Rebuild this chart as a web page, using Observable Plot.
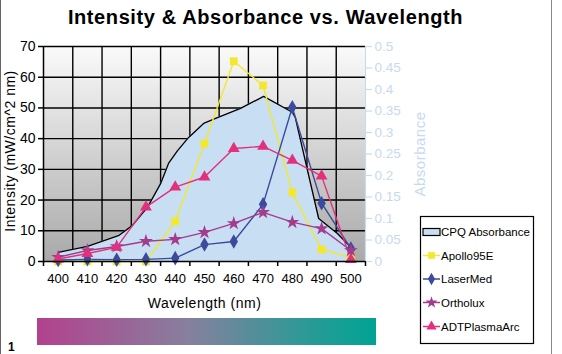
<!DOCTYPE html>
<html><head><meta charset="utf-8">
<script src="https://cdn.jsdelivr.net/npm/d3@7"></script>
<script src="https://cdn.jsdelivr.net/npm/@observablehq/plot@0.6"></script>
<style>body{margin:0;background:#fff} svg{display:block}</style>
</head><body><div id="chart"></div>
<script>
// ---- data ----
const wavelengths = [400, 410, 420, 430, 440, 450, 460, 470, 480, 490, 500];
const apollo95E   = [0, 0, 0, 0, 13.1, 38.4, 65.2, 57.3, 22.5, 3.9, 1.3];
const laserMed    = [0.5, 0.7, 0.6, 0.7, 1.1, 5.5, 6.5, 18.6, 50.2, 19.0, 4.2];
const ortholux    = [1.4, 3.6, 4.9, 6.6, 7.2, 9.5, 12.4, 16.0, 12.8, 10.7, 3.6];
const adtPlasmaArc = [0.8, 2.6, 4.6, 17.7, 24.2, 27.5, 36.8, 37.5, 32.9, 27.8, 0.6];
const absWavelengths = [400, 410, 420.6, 425.4, 430.5, 435, 437.7, 440.8, 444.5, 449.7, 453.8, 462.3, 470.2, 480, 481, 489, 495.4, 501];
const absValues      = [0.021, 0.035, 0.060, 0.084, 0.126, 0.181, 0.228, 0.258, 0.288, 0.321, 0.333, 0.356, 0.384, 0.347, 0.335, 0.100, 0.065, 0.026];
const seriesNames = ["Apollo95E", "LaserMed", "Ortholux", "ADTPlasmaArc"];
const seriesColors = ["#f2e82e", "#3a4a9e", "#a23c8c", "#e2307c"];
const seriesSymbols = ["square", "diamond", "star", "triangle"];
const absName = "CPQ Absorbance";
const intensityTicks = [0, 10, 20, 30, 40, 50, 60, 70];
const absTicks = [0, 0.05, 0.1, 0.15, 0.2, 0.25, 0.3, 0.35, 0.4, 0.45, 0.5];
const absTickLabels = ["0", "0.05", "0.1", "0.15", "0.2", "0.25", "0.3", "0.35", "0.4", "0.45", "0.5"];
const bandEdges = [395, 405, 415, 425, 435, 445, 455, 465, 475, 485, 495, 505];

// ---- derived tables ----
const ABS_TO_Y = 70 / 0.5;
const seriesValues = [apollo95E, laserMed, ortholux, adtPlasmaArc];
const rows = seriesNames.flatMap((name, s) =>
  wavelengths.map((wl, i) => ({series: name, wl, v: seriesValues[s][i]})));
const absRows = absWavelengths.map((wl, i) => ({wl, y: absValues[i] * ABS_TO_Y}));

const lightBlue = "#c6daf0";
const font = "'Liberation Sans', Arial, sans-serif";

const plot = Plot.plot({
  width: 562, height: 354,
  marginLeft: 43, marginRight: 197, marginTop: 46, marginBottom: 93,
  style: {fontFamily: font, background: "white", overflow: "visible"},
  x: {domain: [395, 505], label: null},
  y: {domain: [0, 70], label: null},
  color: {domain: seriesNames, range: seriesColors},
  symbol: {domain: seriesNames, range: seriesSymbols},
  marks: [
    Plot.frame({fill: "url(#plotBg)", stroke: null}),
    Plot.gridY(intensityTicks.slice(1), {stroke: "#000", strokeOpacity: 1, strokeWidth: 1.4}),
    Plot.gridX(bandEdges.slice(1, -1), {stroke: "#000", strokeOpacity: 1, strokeWidth: 1.4}),
    Plot.areaY(absRows, {x: "wl", y: "y", fill: "#c8def2", curve: "linear"}),
    Plot.lineY(absRows, {x: "wl", y: "y", stroke: "#000", strokeWidth: 1.3}),
    Plot.line(rows, {x: "wl", y: "v", z: "series", stroke: "series", strokeWidth: 1.4}),
    Plot.dot(rows, {x: "wl", y: "v", fill: "series", symbol: "series", r: 4.4, stroke: null}),
    Plot.ruleX([395], {stroke: "#000", strokeWidth: 1.5}),
    Plot.ruleX([505], {stroke: lightBlue, strokeWidth: 1.2}),
    Plot.ruleY([0], {stroke: "#000", strokeWidth: 1.5}),
    Plot.axisY(intensityTicks, {anchor: "left", tickSize: 5, tickPadding: 3, fontSize: 14, stroke: "#000", strokeWidth: 1.5, fill: "#000"}),
    Plot.axisX(wavelengths, {anchor: "bottom", tickSize: 0, tickPadding: 12, fontSize: 13, fill: "#000"}),
    Plot.axisX(bandEdges, {anchor: "bottom", tickSize: 5, tickFormat: () => "", stroke: "#000", strokeWidth: 1.5}),
    Plot.axisY(absTicks.map(v => v * ABS_TO_Y), {
      anchor: "right", tickSize: 6, tickPadding: 3, fontSize: 13.5,
      stroke: lightBlue, fill: lightBlue, strokeWidth: 1.2,
      tickFormat: d => absTickLabels[absTicks.findIndex(v => Math.abs(v * ABS_TO_Y - d) < 1e-6)]
    }),
    Plot.text(["Intensity & Absorbance vs. Wavelength"], {frameAnchor: "top", dx: 61, dy: -29, lineAnchor: "middle", fontSize: 20, fontWeight: "bold", fill: "#000", style: "letter-spacing:0.6px"}),
    Plot.text(["Wavelength (nm)"], {frameAnchor: "bottom", dy: 42, lineAnchor: "middle", fontSize: 14, fill: "#000"}),
    Plot.text(["Intensity (mW/cm^2 nm)"], {frameAnchor: "left", dx: -33, dy: -3, rotate: -90, textAnchor: "middle", lineAnchor: "middle", fontSize: 14, fill: "#000"}),
    Plot.text(["Absorbance"], {frameAnchor: "right", dx: 55, rotate: -90, textAnchor: "middle", lineAnchor: "middle", fontSize: 15, fill: lightBlue})
  ]
});

const svg = d3.select(plot);
const defs = svg.insert("defs", ":first-child");
const bg = defs.append("linearGradient").attr("id", "plotBg").attr("x1", 0).attr("y1", 0).attr("x2", 0).attr("y2", 1);
bg.append("stop").attr("offset", "0%").attr("stop-color", "#fafafa");
bg.append("stop").attr("offset", "100%").attr("stop-color", "#a9a9a9");
const spec = defs.append("linearGradient").attr("id", "spectrum").attr("x1", 0).attr("y1", 0).attr("x2", 1).attr("y2", 0);
spec.append("stop").attr("offset", "0%").attr("stop-color", "#b3418e");
spec.append("stop").attr("offset", "45%").attr("stop-color", "#86809e");
spec.append("stop").attr("offset", "80%").attr("stop-color", "#2a9a96");
spec.append("stop").attr("offset", "100%").attr("stop-color", "#00a394");

// letter spacing for stretched labels
svg.selectAll("text").filter(function() { return this.textContent === "Wavelength (nm)" || this.textContent === "Intensity (mW/cm^2 nm)" || this.textContent === "Absorbance"; })
  .style("letter-spacing", "0.5px");
svg.selectAll("text").filter(function() { return this.textContent === "Intensity & Absorbance vs. Wavelength"; })
  .style("letter-spacing", "0.6px");

// outer frame lines
svg.append("line").attr("x1", 0.5).attr("x2", 0.5).attr("y1", 0).attr("y2", 354).attr("stroke", "#666");
svg.append("line").attr("x1", 551.5).attr("x2", 551.5).attr("y1", 0).attr("y2", 354).attr("stroke", "#888");

// spectrum bar and page number
svg.append("rect").attr("x", 37).attr("y", 318).attr("width", 339).attr("height", 27).attr("fill", "url(#spectrum)");
svg.append("text").attr("x", 8).attr("y", 351).attr("text-anchor", "start").attr("font-size", 12).attr("font-weight", "bold").attr("font-family", font).text("1");

// legend
const lg = svg.append("g").attr("font-family", font).attr("font-size", 11.5).attr("text-anchor", "start");
lg.append("rect").attr("x", 420.5).attr("y", 216.5).attr("width", 113).attr("height", 127).attr("fill", "#fff").attr("stroke", "#000").attr("stroke-width", 1.2);
const entryY = [232, 255.5, 279, 302.5, 326.5];
lg.append("rect").attr("x", 423).attr("y", entryY[0] - 3.5).attr("width", 17).attr("height", 7).attr("fill", "#c8def2").attr("stroke", "#000").attr("stroke-width", 1.2);
lg.append("text").attr("x", 441).attr("y", entryY[0]).attr("dy", "0.35em").text(absName);
const symMap = {square: d3.symbolSquare, diamond: d3.symbolDiamond, star: d3.symbolStar, triangle: d3.symbolTriangle};
seriesNames.forEach((name, i) => {
  const y = entryY[i + 1];
  lg.append("line").attr("x1", 423).attr("x2", 440).attr("y1", y).attr("y2", y).attr("stroke", seriesColors[i]).attr("stroke-width", 1.5);
  lg.append("path").attr("d", d3.symbol(symMap[seriesSymbols[i]], 45)()).attr("transform", `translate(431.5,${y})`).attr("fill", seriesColors[i]);
  lg.append("text").attr("x", 441).attr("y", y).attr("dy", "0.35em").text(name);
});

document.getElementById("chart").appendChild(plot);
</script>
</body></html>
